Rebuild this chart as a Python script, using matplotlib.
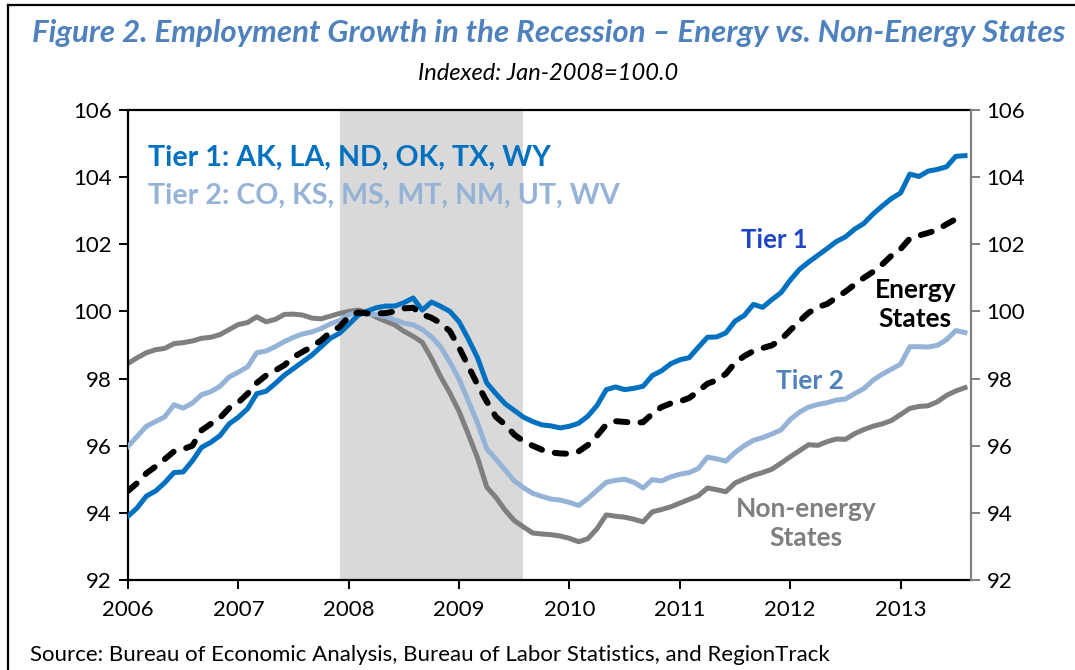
import matplotlib
matplotlib.use("Agg")
import matplotlib.pyplot as plt
from matplotlib.lines import Line2D
import numpy as np

# ---- data (monthly, Jan 2006 onward), indexed Jan-2008 = 100 ----
tier1 = [93.9, 94.15, 94.5, 94.65, 94.9, 95.2, 95.22, 95.55, 95.95, 96.1, 96.3, 96.65,
         96.85, 97.1, 97.55, 97.62, 97.85, 98.1, 98.3, 98.5, 98.7, 98.95, 99.2, 99.35,
         99.61, 99.88, 100.01, 100.11, 100.16, 100.16, 100.26, 100.4, 100.04, 100.28, 100.15, 100.0,
         99.69, 99.18, 98.62, 97.87, 97.55, 97.25, 97.05, 96.85, 96.72, 96.62, 96.59, 96.53,
         96.58, 96.67, 96.88, 97.2, 97.67, 97.75, 97.67, 97.71, 97.77, 98.09, 98.23, 98.44,
         98.56, 98.62, 98.93, 99.23, 99.24, 99.36, 99.71, 99.88, 100.21, 100.12, 100.35, 100.56,
         100.93, 101.25, 101.47, 101.67, 101.87, 102.08, 102.22, 102.45, 102.62, 102.9, 103.14, 103.36,
         103.53, 104.09, 104.02, 104.18, 104.23, 104.31, 104.62, 104.64]

energy = [94.65, 94.89, 95.18, 95.38, 95.6, 95.83, 95.9, 96.0, 96.46, 96.65, 96.83, 97.12,
          97.29, 97.55, 97.87, 98.09, 98.24, 98.4, 98.64, 98.8, 98.95, 99.14, 99.38, 99.54,
          99.84, 99.97, 99.94, 99.94, 99.95, 100.0, 100.09, 100.11, 99.91, 99.81, 99.65, 99.41,
          98.92, 98.37, 97.82, 97.32, 96.86, 96.63, 96.33, 96.13, 96.0, 95.88, 95.8, 95.77,
          95.76, 95.83, 96.02, 96.3, 96.63, 96.73, 96.71, 96.68, 96.7, 96.95, 97.15, 97.26,
          97.32, 97.42, 97.62, 97.85, 97.95, 98.14, 98.47, 98.67, 98.82, 98.91, 98.99, 99.16,
          99.44, 99.71, 99.96, 100.13, 100.22, 100.41, 100.59, 100.8, 101.0, 101.18, 101.4, 101.66,
          101.86, 102.17, 102.26, 102.34, 102.43, 102.6, 102.75, 102.83]

tier2 = [95.98, 96.28, 96.58, 96.72, 96.86, 97.22, 97.12, 97.27, 97.52, 97.61, 97.77, 98.05,
         98.19, 98.35, 98.77, 98.82, 98.95, 99.1, 99.23, 99.33, 99.39, 99.49, 99.63, 99.73,
         99.9, 99.96, 99.94, 99.9, 99.85, 99.75, 99.65, 99.6, 99.46, 99.24, 98.94, 98.49,
         97.98, 97.33, 96.68, 95.91, 95.6, 95.28, 94.95, 94.75, 94.58, 94.49, 94.41, 94.38,
         94.31, 94.22, 94.43, 94.67, 94.91, 94.97, 95.0, 94.91, 94.74, 94.99, 94.95, 95.07,
         95.15, 95.2, 95.32, 95.66, 95.61, 95.54, 95.8, 96.0, 96.16, 96.24, 96.35, 96.47,
         96.78, 97.0, 97.15, 97.23, 97.28, 97.36, 97.39, 97.55, 97.7, 97.95, 98.13, 98.28,
         98.43, 98.95, 98.95, 98.94, 98.99, 99.16, 99.43, 99.37]

nonenergy = [98.45, 98.62, 98.77, 98.86, 98.9, 99.04, 99.07, 99.12, 99.2, 99.23, 99.31, 99.46,
             99.61, 99.67, 99.84, 99.69, 99.76, 99.91, 99.92, 99.89, 99.8, 99.78, 99.86, 99.94,
             100.0, 100.04, 99.98, 99.83, 99.71, 99.6, 99.41, 99.26, 99.08, 98.6, 98.05, 97.57,
             97.02, 96.34, 95.64, 94.77, 94.46, 94.08, 93.77, 93.58, 93.4, 93.37, 93.35, 93.31,
             93.24, 93.14, 93.23, 93.53, 93.94, 93.9, 93.87, 93.81, 93.73, 94.03, 94.1, 94.18,
             94.29, 94.4, 94.51, 94.74, 94.69, 94.63, 94.89, 95.01, 95.12, 95.2, 95.3, 95.48,
             95.67, 95.85, 96.03, 96.01, 96.12, 96.2, 96.19, 96.36, 96.48, 96.58, 96.65, 96.75,
             96.93, 97.11, 97.17, 97.19, 97.31, 97.5, 97.63, 97.73]

year_labels = ["2006", "2007", "2008", "2009", "2010", "2011", "2012", "2013"]
y_ticks = [92, 94, 96, 98, 100, 102, 104, 106]
recession_start, recession_end = 23, 43   # months since Jan 2006 (Dec 2007 - mid 2009)

months = np.arange(len(tier1))

# ---- style ----
FONT = "Lato"
plt.rcParams["font.family"] = [FONT, "DejaVu Sans"]

C_T1 = "#0070C0"
C_T2 = "#95B3D7"
C_GRAY = "#7F7F7F"
C_TITLE = "#4F81BD"

fig = plt.figure(figsize=(10.75, 6.7), dpi=100)
ax = fig.add_axes([128 / 1075, 1 - 580 / 670, (970.5 - 128) / 1075, (580 - 110) / 670])

ax.axvspan(recession_start, recession_end, color="#D9D9D9", lw=0, zorder=0)

ax.plot(months, nonenergy, color=C_GRAY, lw=3.6, solid_joinstyle="round", zorder=2)
ax.plot(months, tier2, color=C_T2, lw=3.6, solid_joinstyle="round", zorder=3)
ax.plot(months, tier1, color=C_T1, lw=3.6, solid_joinstyle="round", zorder=4)
ax.plot(months, energy, color="black", lw=4.3, linestyle=(0, (1.9, 2.2)),
        dash_capstyle="round", dash_joinstyle="round", zorder=5)

ax.set_xlim(0, 91.6)
ax.set_ylim(92, 106)
ax.set_yticks(y_ticks)
ax.set_xticks(np.arange(0, 12 * len(year_labels), 12))
ax.set_xticklabels(year_labels)

for s in ["left", "bottom", "top"]:
    ax.spines[s].set_color("black")
    ax.spines[s].set_linewidth(1.6)
ax.spines["right"].set_visible(False)

ax.tick_params(axis="both", direction="out", length=6.5, width=1.4, labelsize=16,
               colors="black", pad=5)
ax.tick_params(axis="x", pad=8)

ax2 = ax.twinx()
ax2.set_ylim(92, 106)
ax2.set_yticks(y_ticks)
for s in ["left", "bottom", "top"]:
    ax2.spines[s].set_visible(False)
ax2.spines["right"].set_color("#808080")
ax2.spines["right"].set_linewidth(1.6)
ax2.tick_params(axis="y", direction="out", length=6.5, width=1.4, color="#808080",
                labelcolor="black", labelsize=16, pad=5)

# ---- annotations ----
ax.text(2.2, 104.57, "Tier 1: AK, LA, ND, OK, TX, WY", color=C_T1, fontsize=20.6,
        fontweight="bold", ha="left", va="center", zorder=6)
ax.text(2.2, 103.43, "Tier 2: CO, KS, MS, MT, NM, UT, WV", color=C_T2, fontsize=20.6,
        fontweight="bold", ha="left", va="center", zorder=6)
ax.text(70.3, 102.12, "Tier 1", color="#1F45C8", fontsize=18.5, fontweight="bold",
        ha="center", va="center", zorder=6)
ax.text(85.6, 100.2, "Energy\nStates", color="black", fontsize=19, fontweight="bold",
        ha="center", va="center", linespacing=1.25, zorder=6)
ax.text(74.1, 97.94, "Tier 2", color=C_TITLE, fontsize=19, fontweight="bold",
        ha="center", va="center", zorder=6)
ax.text(73.7, 93.68, "Non-energy\nStates", color=C_GRAY, fontsize=19, fontweight="bold",
        ha="center", va="center", linespacing=1.25, zorder=6)

# ---- titles / source ----
fig.text(549 / 1075, 1 - 33 / 670, "Figure 2. Employment Growth in the Recession \u2013 Energy vs. Non-Energy States",
         color=C_TITLE, fontsize=22.5, fontweight="bold", fontstyle="italic", ha="center", va="center")
fig.text(548 / 1075, 1 - 74 / 670, "Indexed: Jan-2008=100.0", color="black", fontsize=17,
         fontstyle="italic", ha="center", va="center")
fig.text(30 / 1075, 1 - 655 / 670,
         "Source: Bureau of Economic Analysis, Bureau of Labor Statistics, and RegionTrack",
         color="black", fontsize=16, ha="left", va="center")

# ---- outer frame ----
fig.add_artist(Line2D([8 / 1075, 8 / 1075], [0, 1 - 5 / 670], transform=fig.transFigure,
                      color="black", lw=1.6))
fig.add_artist(Line2D([8 / 1075, 1], [1 - 5 / 670, 1 - 5 / 670], transform=fig.transFigure,
                      color="black", lw=1.6))

fig.savefig("out.png", dpi=100)
